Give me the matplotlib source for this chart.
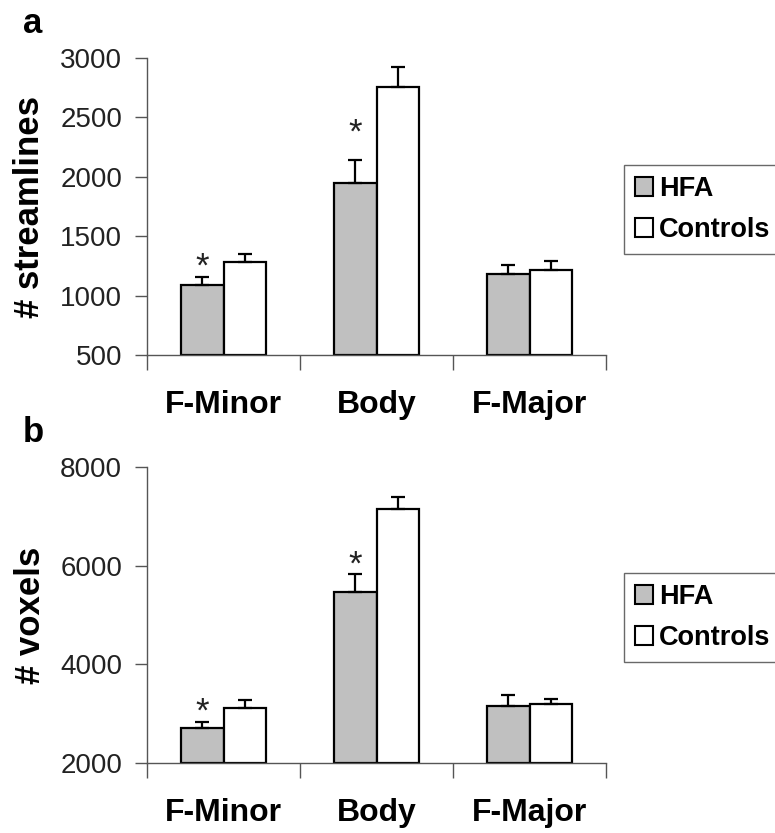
import matplotlib
matplotlib.use("Agg")
import matplotlib.pyplot as plt
import numpy as np
from matplotlib.patches import Patch

plt.rcParams['font.family'] = ['Liberation Sans', 'DejaVu Sans']

regions = ["F-Minor", "Body", "F-Major"]

# panel a: number of streamlines
stream_hfa = [1090, 1950, 1185]
stream_hfa_err = [70, 195, 75]
stream_ctrl = [1285, 2758, 1213]
stream_ctrl_err = [65, 165, 75]
stream_ticks = [500, 1000, 1500, 2000, 2500, 3000]
stream_star = [0, 12, None]   # offset (pt) of the asterisk over the HFA bar, None = no star

# panel b: number of voxels
vox_hfa = [2708, 5458, 3159]
vox_hfa_err = [133, 365, 220]
vox_ctrl = [3124, 7157, 3193]
vox_ctrl_err = [155, 235, 105]
vox_ticks = [2000, 4000, 6000, 8000]
vox_star = [0, 0, None]

GRAY = "#c0c0c0"
AXCOL = "#555555"
W = 0.28


def draw_panel(fig, rect, hfa, hfa_err, ctrl, ctrl_err, ticks, stars, ylabel, letter, leg_y):
    ax = fig.add_axes(rect)
    x = np.arange(len(regions))
    base = ticks[0]
    ax.bar(x - W / 2, np.array(hfa) - base, W, bottom=base, color=GRAY,
           edgecolor="black", linewidth=1.6, zorder=2)
    ax.bar(x + W / 2, np.array(ctrl) - base, W, bottom=base, color="white",
           edgecolor="black", linewidth=1.6, zorder=2)
    zeros = np.zeros(len(x))
    ax.errorbar(x - W / 2, hfa, yerr=[zeros, hfa_err], fmt="none", ecolor="black",
                elinewidth=1.6, capsize=5, capthick=1.6, zorder=3)
    ax.errorbar(x + W / 2, ctrl, yerr=[zeros, ctrl_err], fmt="none", ecolor="black",
                elinewidth=1.6, capsize=5, capthick=1.6, zorder=3)
    for i, off in enumerate(stars):
        if off is None:
            continue
        ax.annotate("*", (x[i] - W / 2, hfa[i] + hfa_err[i]), xytext=(0, off),
                    textcoords="offset points", ha="center", va="baseline",
                    fontsize=25, color="#222222")

    ax.set_xlim(-0.5, len(regions) - 0.5)
    ax.set_ylim(ticks[0], ticks[-1])
    ax.set_yticks(ticks)
    ax.set_yticklabels([str(t) for t in ticks], fontsize=20, color="#222222")
    ax.set_xticks(np.arange(len(regions) + 1) - 0.5)
    ax.set_xticklabels([])
    ax.set_xticks(x, minor=True)
    ax.set_xticklabels(regions, minor=True, fontsize=23, fontweight="bold")
    ax.tick_params(axis="x", which="major", direction="out", length=11, width=1, color=AXCOL)
    ax.tick_params(axis="x", which="minor", length=0, pad=25)
    ax.tick_params(axis="y", direction="out", length=9, width=1, color=AXCOL, pad=9)
    for s in ["top", "right"]:
        ax.spines[s].set_visible(False)
    for s in ["left", "bottom"]:
        ax.spines[s].set_color(AXCOL)
        ax.spines[s].set_linewidth(1)

    cy = rect[1] + rect[3] / 2
    fig.text(30 / 775, cy, ylabel, rotation=90, ha="center", va="center",
             fontsize=25, fontweight="bold")
    fig.text(23 / 775, rect[1] + rect[3] + 0.03, letter, ha="left", va="baseline",
             fontsize=25, fontweight="bold")

    handles = [Patch(facecolor=GRAY, edgecolor="black", linewidth=1.5, label="HFA"),
               Patch(facecolor="white", edgecolor="black", linewidth=1.5, label="Controls")]
    leg = fig.legend(handles=handles, loc="upper left", bbox_to_anchor=(624 / 775, leg_y),
                     bbox_transform=fig.transFigure, fancybox=False, frameon=True,
                     prop={"weight": "bold", "size": 19.5}, handlelength=0.68,
                     handleheight=0.68, handletextpad=0.22, labelspacing=0.55,
                     borderpad=0.4, borderaxespad=0)
    leg.get_frame().set_edgecolor("#444444")
    leg.get_frame().set_linewidth(1)
    return ax


fig = plt.figure(figsize=(7.75, 8.33), dpi=100)
draw_panel(fig, [147 / 775, 1 - 355 / 833, 459 / 775, 297 / 833],
           stream_hfa, stream_hfa_err, stream_ctrl, stream_ctrl_err, stream_ticks,
           stream_star, "# streamlines", "a", 1 - 165 / 833)
draw_panel(fig, [147 / 775, 1 - 763 / 833, 459 / 775, 296 / 833],
           vox_hfa, vox_hfa_err, vox_ctrl, vox_ctrl_err, vox_ticks,
           vox_star, "# voxels", "b", 1 - 573 / 833)

fig.savefig("out.png", dpi=100)
